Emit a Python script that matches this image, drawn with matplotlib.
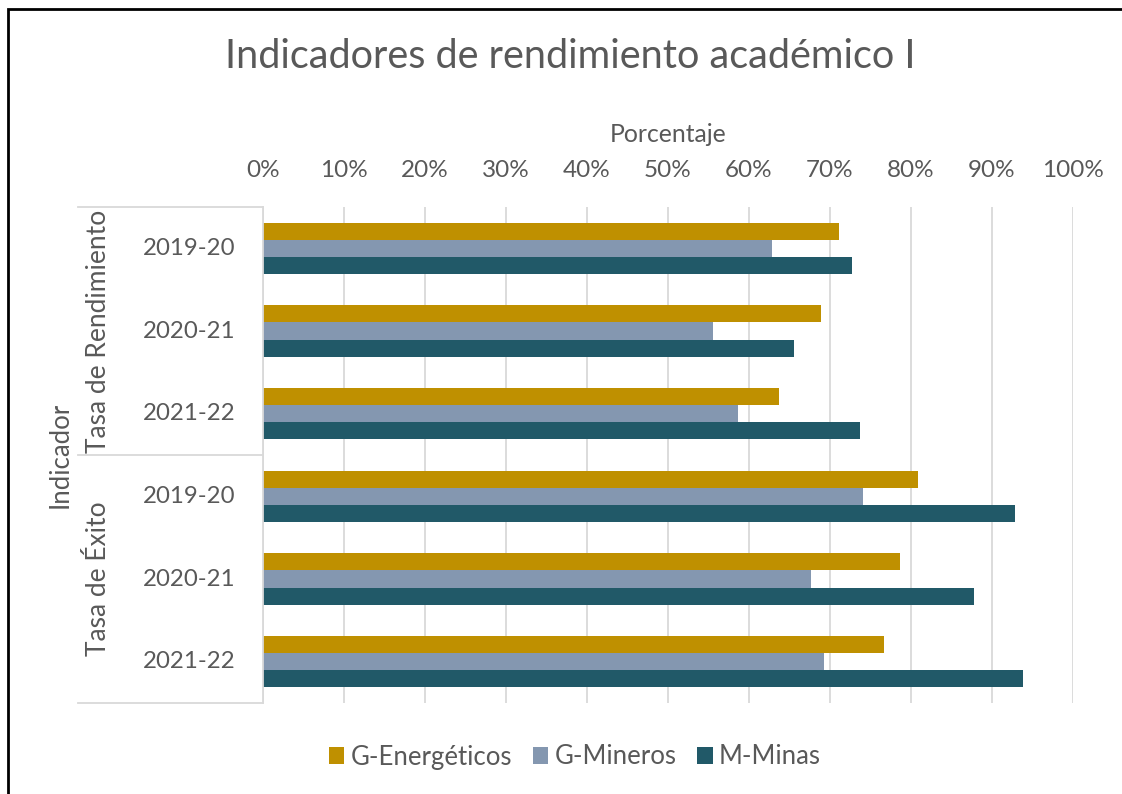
import matplotlib
matplotlib.use("Agg")
import matplotlib.pyplot as plt
import numpy as np
from matplotlib.transforms import blended_transform_factory
from matplotlib.lines import Line2D
from matplotlib.patches import Rectangle

plt.rcParams['font.family'] = ['Lato', 'DejaVu Sans']

years = ["2019-20", "2020-21", "2021-22", "2019-20", "2020-21", "2021-22"]
groups = ["Tasa de Rendimiento", "Tasa de Éxito"]
series = ["G-Energéticos", "G-Mineros", "M-Minas"]
g_energeticos = [71.1, 68.9, 63.7, 80.9, 78.7, 76.7]
g_mineros = [62.8, 55.6, 58.7, 74.1, 67.6, 69.2]
m_minas = [72.7, 65.6, 73.7, 92.9, 87.8, 93.8]
colors = ["#BF9000", "#8497B0", "#215968"]
xticks = list(range(0, 101, 10))

W, H = 1122, 794
fig = plt.figure(figsize=(W / 100, H / 100), dpi=100)
txt = "#595959"

def fx(px):
    return px / W

def fy(py):
    return 1 - py / H

ax = fig.add_axes([fx(263), fy(703), fx(1073) - fx(263), fy(207) - fy(703)])
y = np.arange(len(years))
h = 0.206
for i, (vals, c, name) in enumerate(zip([g_energeticos, g_mineros, m_minas], colors, series)):
    ax.barh(y + (i - 1) * h, vals, height=h, color=c, label=name, zorder=3)

ax.set_xlim(0, 100)
ax.set_ylim(5.5, -0.5)
ax.set_xticks(xticks)
ax.set_xticklabels([f"{t}%" for t in xticks], color=txt, fontsize=17.5)
ax.xaxis.tick_top()
ax.tick_params(axis='x', length=0, pad=19)
ax.set_yticks([])
ax.grid(axis='x', color="#D9D9D9", lw=1.3, zorder=0)
for s in ["top", "right", "bottom"]:
    ax.spines[s].set_visible(False)
ax.spines["left"].set_color("#D9D9D9")
ax.spines["left"].set_linewidth(1.3)
ax.spines["left"].set_zorder(4)

# x axis title
fig.text(fx(668), fy(134), "Porcentaje", ha="center", va="center", color=txt, fontsize=17.8)

# multi-level category labels
tr = blended_transform_factory(fig.transFigure, ax.transData)
for yi, lab in zip(y, years):
    ax.text(fx(189), yi, lab, transform=tr, ha="center", va="center", color=txt, fontsize=17.3)
for gi, g in enumerate(groups):
    ax.text(fx(98), 1 + gi * 3, g, transform=tr, ha="center", va="center", rotation=90,
            color=txt, fontsize=19)
for yy in [-0.5, 2.5, 5.5]:
    ax.add_line(Line2D([fx(78), fx(263)], [yy, yy], transform=tr, color="#D9D9D9", lw=1.3,
                       clip_on=False))
ax.text(fx(60), 2.5, "Indicador", transform=tr, ha="center", va="center", rotation=90,
        color=txt, fontsize=18.5)

# title
fig.text(fx(570), fy(57), "Indicadores de rendimiento académico I", ha="center", va="center",
         color=txt, fontsize=28.5)

# legend
handles, labels = ax.get_legend_handles_labels()
fig.legend(handles, labels, loc="center", bbox_to_anchor=(fx(575), fy(757)), ncol=3,
           frameon=False, fontsize=18.5, handlelength=0.6, handleheight=0.6,
           columnspacing=0.8, handletextpad=0.25, labelcolor=txt)

# outer border
fig.add_artist(Rectangle((fx(8), -0.1), 1.2, fy(9) + 0.1, transform=fig.transFigure,
                         fill=False, edgecolor="black", lw=2))

fig.savefig("out.png", dpi=100)
